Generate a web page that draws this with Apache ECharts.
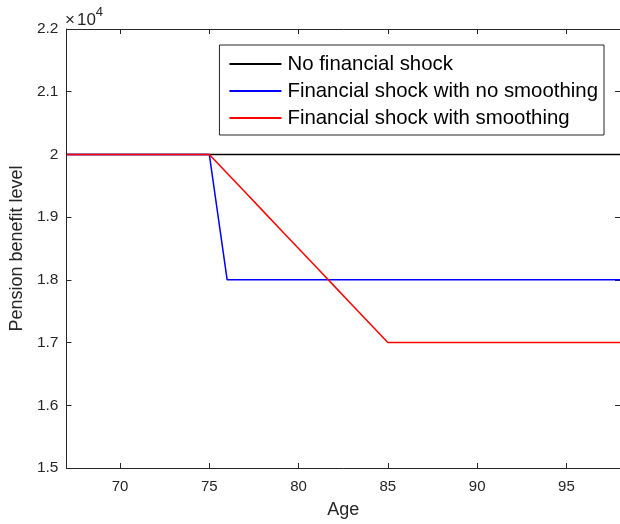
<!DOCTYPE html>
<html>
<head>
<meta charset="utf-8">
<script src="https://cdn.jsdelivr.net/npm/echarts@6/dist/echarts.min.js"></script>
<style>
  html, body { margin: 0; padding: 0; background: #fff; }
  #chart { width: 620px; height: 524px; }
</style>
</head>
<body>
<div id="chart"></div>
<script>
// Pension benefit level by age under three scenarios (axis shown in units of 10^4)
const ages = [67, 68, 69, 70, 71, 72, 73, 74, 75, 76, 77, 78, 79, 80, 81, 82,
              83, 84, 85, 86, 87, 88, 89, 90, 91, 92, 93, 94, 95, 96, 97, 98];

const noShock = [20000, 20000, 20000, 20000, 20000, 20000, 20000, 20000, 20000, 20000,
                 20000, 20000, 20000, 20000, 20000, 20000, 20000, 20000, 20000, 20000,
                 20000, 20000, 20000, 20000, 20000, 20000, 20000, 20000, 20000, 20000,
                 20000, 20000];

const shockNoSmoothing = [20000, 20000, 20000, 20000, 20000, 20000, 20000, 20000, 20000, 18000,
                          18000, 18000, 18000, 18000, 18000, 18000, 18000, 18000, 18000, 18000,
                          18000, 18000, 18000, 18000, 18000, 18000, 18000, 18000, 18000, 18000,
                          18000, 18000];

const shockSmoothing = [20000, 20000, 20000, 20000, 20000, 20000, 20000, 20000, 20000, 19700,
                        19400, 19100, 18800, 18500, 18200, 17900, 17600, 17300, 17000, 17000,
                        17000, 17000, 17000, 17000, 17000, 17000, 17000, 17000, 17000, 17000,
                        17000, 17000];

const seriesNames = ['No financial shock', 'Financial shock with no smoothing', 'Financial shock with smoothing'];
const xTicks = [70, 75, 80, 85, 90, 95];
const yTicks = ['1.5', '1.6', '1.7', '1.8', '1.9', '2', '2.1', '2.2'];

const pair = (vals) => ages.map((a, i) => [a, vals[i]]);

const axisColor = '#262626';
const font = 'Liberation Sans, Arial, Helvetica, sans-serif';

const chart = echarts.init(document.getElementById('chart'), null, { renderer: 'canvas' });

const baseX = {
  type: 'value', min: 67, max: 98,
  axisLine: { show: true, onZero: false, lineStyle: { color: axisColor, width: 1 } },
  axisTick: { show: true, inside: true, length: 5, lineStyle: { color: axisColor },
              customValues: xTicks },
  splitLine: { show: false }
};
const baseY = {
  type: 'value', min: 15000, max: 22000, interval: 1000,
  axisLine: { show: true, onZero: false, lineStyle: { color: axisColor, width: 1 } },
  axisTick: { show: true, inside: true, length: 5, lineStyle: { color: axisColor } },
  splitLine: { show: false }
};

chart.setOption({
  animation: false,
  backgroundColor: '#fff',
  grid: { left: 64, top: 29, width: 557, height: 440, containLabel: false },
  xAxis: [
    Object.assign({}, baseX, {
      position: 'bottom',
      name: 'Age', nameLocation: 'middle', nameGap: 33,
      nameTextStyle: { color: axisColor, fontSize: 18, fontFamily: font },
      axisLabel: { show: true, color: axisColor, fontSize: 15, fontFamily: font, margin: 11,
                   customValues: xTicks }
    }),
    Object.assign({}, baseX, { position: 'top', axisLabel: { show: false } })
  ],
  yAxis: [
    Object.assign({}, baseY, {
      position: 'left',
      name: 'Pension benefit level', nameLocation: 'middle', nameGap: 40,
      nameTextStyle: { color: axisColor, fontSize: 18, fontFamily: font },
      axisLabel: { show: true, color: axisColor, fontSize: 15.5, fontFamily: font, margin: 8,
                   formatter: (v) => yTicks[Math.round((v - 15000) / 1000)] }
    }),
    Object.assign({}, baseY, { position: 'right', axisLabel: { show: false } })
  ],
  legend: {
    orient: 'vertical',
    right: 16, top: 45,
    padding: [9, 6, 7, 10],
    itemGap: 7,
    itemWidth: 52, itemHeight: 2,
    icon: 'rect',
    borderColor: axisColor, borderWidth: 1,
    backgroundColor: '#fff',
    textStyle: { color: '#000', fontSize: 20.4, lineHeight: 20, fontFamily: font, padding: [0, 0, 0, 1] },
    data: seriesNames
  },
  graphic: [{
    type: 'text', left: 65, top: 6,
    style: {
      text: '{x|×}{t|10}{s|4}',
      rich: {
        x: { fontSize: 17, fontFamily: font, fill: axisColor, padding: [6, 2, 0, 0] },
        t: { fontSize: 17, fontFamily: font, fill: axisColor, padding: [6, 0, 0, 0] },
        s: { fontSize: 13, fontFamily: font, fill: axisColor, verticalAlign: 'top' }
      }
    }
  }],
  series: [
    { name: seriesNames[0], type: 'line', data: pair(noShock), showSymbol: false,
      lineStyle: { color: '#000', width: 1.5 }, itemStyle: { color: '#000' } },
    { name: seriesNames[1], type: 'line', data: pair(shockNoSmoothing), showSymbol: false,
      lineStyle: { color: '#0000ff', width: 1.5 }, itemStyle: { color: '#0000ff' } },
    { name: seriesNames[2], type: 'line', data: pair(shockSmoothing), showSymbol: false,
      lineStyle: { color: '#ff0000', width: 1.5 }, itemStyle: { color: '#ff0000' } }
  ]
});
</script>
</body>
</html>
